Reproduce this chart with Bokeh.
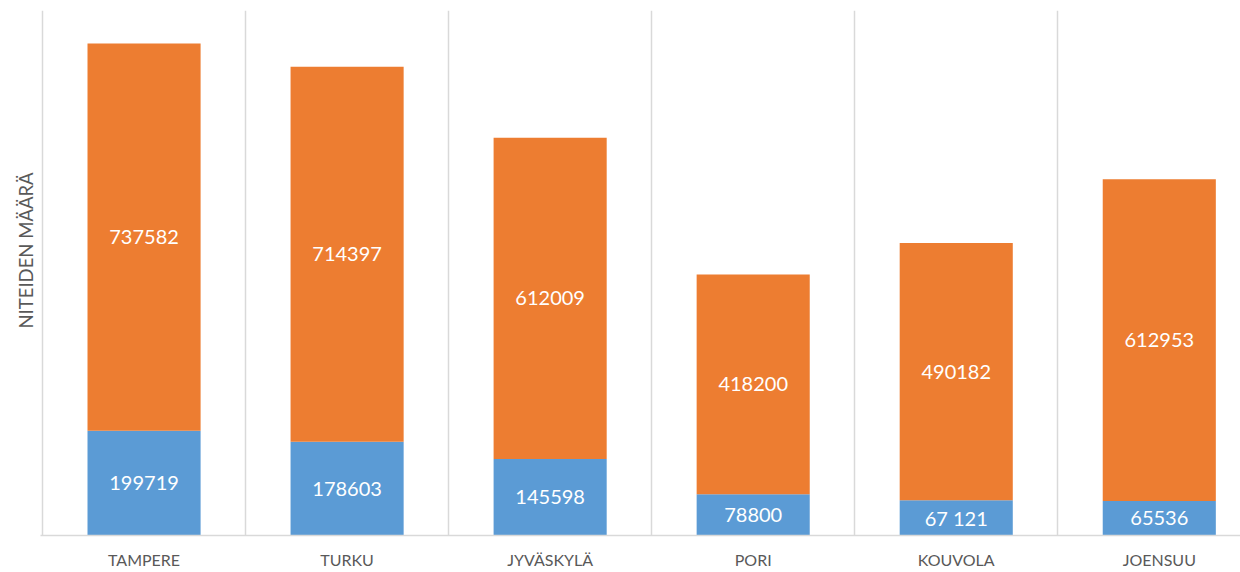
import numpy as np
from bokeh.plotting import figure
from bokeh.models import ColumnDataSource, Range1d, FixedTicker, Title
from bokeh.core.properties import value
from bokeh.embed import file_html
from bokeh.resources import INLINE

categories = ["TAMPERE", "TURKU", "JYVÄSKYLÄ", "PORI", "KOUVOLA", "JOENSUU"]
blue_values = [199719, 178603, 145598, 78800, 67121, 65536]
orange_values = [737582, 714397, 612009, 418200, 490182, 612953]
blue_labels = ["199719", "178603", "145598", "78800", "67 121", "65536"]
orange_labels = ["737582", "714397", "612009", "418200", "490182", "612953"]
y_title = "NITEIDEN MÄÄRÄ"

BLUE = "#5B9BD5"
ORANGE = "#ED7D31"
GRID = "#D9D9D9"
TEXT = "#595959"
FONT = "Lato"

xs = np.arange(len(categories)) + 0.5
blue = np.array(blue_values, dtype=float)
orange = np.array(orange_values, dtype=float)

src = ColumnDataSource(dict(
    x=xs,
    b_top=blue,
    o_bot=blue,
    o_top=blue + orange,
    b_mid=blue / 2,
    o_mid=blue + orange / 2,
    b_lab=blue_labels,
    o_lab=orange_labels,
))

p = figure(width=1240, height=572, output_backend="svg", toolbar_location=None,
           x_range=Range1d(-0.01, 5.90), y_range=Range1d(0, 1000000),
           min_border_left=40, min_border_right=0, min_border_top=10,
           min_border_bottom=37)
p.outline_line_color = None
p.background_fill_color = "white"
p.border_fill_color = "white"

p.vbar(x="x", width=0.557, bottom=0, top="b_top", source=src,
       fill_color=BLUE, line_color=None)
p.vbar(x="x", width=0.557, bottom="o_bot", top="o_top", source=src,
       fill_color=ORANGE, line_color=None)

p.text(x="x", y="b_mid", text="b_lab", source=src, text_color="white",
       text_font=value(FONT), text_font_size="20px",
       text_align="center", text_baseline="middle")
p.text(x="x", y="o_mid", text="o_lab", source=src, text_color="white",
       text_font=value(FONT), text_font_size="20px",
       text_align="center", text_baseline="middle")

p.yaxis.visible = False
p.ygrid.grid_line_color = None

xa = p.xaxis[0]
xa.ticker = FixedTicker(ticks=list(xs))
xa.major_label_overrides = {float(x): c for x, c in zip(xs, categories)}
xa.major_tick_line_color = None
xa.minor_tick_line_color = None
xa.axis_line_color = GRID
xa.axis_line_width = 1.5
xa.major_label_text_font = FONT
xa.major_label_text_font_size = "16px"
xa.major_label_text_color = TEXT
xa.major_label_standoff = 8

p.xgrid.ticker = FixedTicker(ticks=list(range(len(categories) + 1)))
p.xgrid.grid_line_color = GRID
p.xgrid.grid_line_width = 1.5

t = Title(text=y_title, align="left", offset=207, standoff=8,
          text_font=FONT, text_font_size="18.5px", text_color=TEXT,
          text_font_style="normal")
p.add_layout(t, "left")

open("out.html", "w").write(file_html(p, INLINE))
